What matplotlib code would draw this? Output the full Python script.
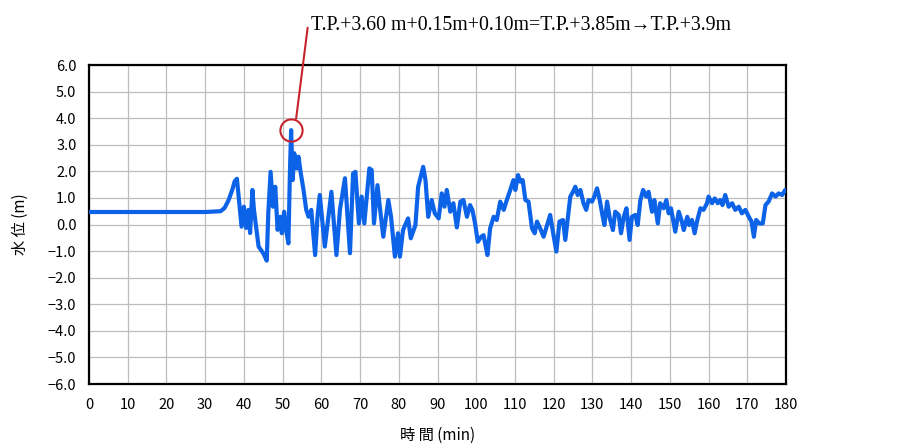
import numpy as np
import matplotlib
matplotlib.use("Agg")
import matplotlib.pyplot as plt

plt.rcParams['font.family'] = ['Noto Sans CJK JP', 'DejaVu Sans']
plt.rcParams['axes.unicode_minus'] = True

# ---- data (time in min, water level in m) ----
time_min = [0, 10, 20, 30, 34.0, 35.0, 36.0, 37.0, 37.6, 38.2,
            39.4, 40.0, 40.6, 41.2, 41.6, 42.2, 42.6, 43.8, 45.0, 45.9,
            46.3, 46.9, 47.5, 48.1, 48.7, 49.4, 49.8, 50.4, 50.9, 51.5,
            51.9, 52.2, 52.6, 53.0, 53.7, 54.1, 54.7, 55.4, 56.1, 56.7,
            57.4, 58.4, 59.0, 59.6, 60.9, 62.6, 63.9, 64.8, 66.1, 67.4,
            68.2, 68.8, 69.7, 70.4, 71.1, 72.4, 73.0, 73.6, 74.5, 75.1,
            76.0, 77.3, 78.0, 79.0, 79.8, 80.3, 81.1, 82.4, 83.1, 84.3,
            85.0, 86.3, 86.9, 87.6, 88.5, 89.3, 90.3, 91.1, 91.8, 92.4,
            93.3, 94.1, 95.0, 95.9, 96.7, 97.6, 98.4, 99.0, 99.7, 100.4,
            101.3, 101.9, 102.3, 102.9, 103.6, 104.5, 105.3, 106.2, 107.1, 107.9,
            108.8, 109.6, 110.1, 110.8, 111.4, 112.0, 112.7, 113.5, 114.4, 115.1,
            115.7, 116.5, 117.4, 118.3, 119.1, 119.8, 120.7, 121.5, 122.4, 123.0,
            123.6, 124.3, 125.0, 125.6, 126.2, 126.9, 127.7, 128.4, 129.0, 129.9,
            130.5, 131.2, 131.9, 132.5, 133.1, 133.8, 134.5, 135.3, 135.9, 136.8,
            137.4, 138.1, 138.8, 139.6, 140.2, 141.1, 141.7, 142.4, 143.1, 143.9,
            144.5, 145.4, 146.0, 146.9, 147.5, 148.4, 149.1, 149.7, 150.3, 151.4,
            152.3, 153.0, 153.6, 154.5, 155.0, 155.7, 156.4, 157.0, 157.9, 158.7,
            159.6, 160.0, 160.9, 161.6, 162.4, 163.0, 163.6, 164.3, 165.2, 166.1,
            166.9, 167.8, 168.6, 169.5, 170.4, 171.1, 171.7, 172.3, 173.1, 174.0,
            174.7, 175.5, 176.4, 177.3, 178.1, 179.0, 179.8, 180.0]

water_level = [0.47, 0.47, 0.47, 0.47, 0.50, 0.62, 0.90, 1.30, 1.62, 1.72,
               -0.08, 0.67, -0.13, 0.55, -0.32, 1.30, 0.55, -0.83, -1.08, -1.36,
               0.42, 1.98, 0.67, 1.42, -0.20, 0.29, -0.33, 0.48, -0.20, -0.71,
               2.05, 3.55, 1.67, 2.68, 2.11, 2.55, 1.92, 1.30, 0.55, 0.29,
               0.55, -1.15, 0.29, 1.11, -0.83, 1.23, -1.15, 0.55, 1.74, -1.08,
               1.92, 1.98, 0.04, 1.05, 0.04, 2.11, 2.05, 0.04, 1.48, 0.67,
               -0.46, 0.92, 0.29, -1.21, -0.33, -1.21, -0.21, 0.23, -0.52, -0.02,
               1.42, 2.17, 1.67, 0.29, 0.92, 0.42, 0.23, 1.17, 0.67, 1.30,
               0.48, 0.80, -0.11, 0.86, 0.92, 0.29, 0.73, 0.55, 0.04, -0.65,
               -0.46, -0.40, -0.71, -1.15, -0.14, 0.29, 0.17, 0.86, 0.55, 0.92,
               1.30, 1.67, 1.30, 1.86, 1.61, 1.67, 0.92, 0.86, -0.14, -0.33,
               0.11, -0.14, -0.46, -0.02, 0.36, -0.27, -1.02, 0.11, 0.17, -0.58,
               0.17, 1.05, 1.23, 1.42, 1.11, 1.30, 0.80, 0.55, 0.92, 0.86,
               1.05, 1.36, 0.92, 0.42, -0.02, 0.86, 0.23, -0.21, 0.48, 0.36,
               -0.33, 0.29, 0.61, -0.58, 0.29, 0.36, -0.02, 0.92, 1.30, 1.05,
               1.23, 0.48, 0.92, 0.04, 0.80, 0.61, 0.92, 0.42, 0.61, -0.27,
               0.48, 0.17, -0.21, 0.29, -0.02, 0.17, -0.33, 0.11, 0.61, 0.55,
               0.80, 1.05, 0.80, 0.98, 0.80, 0.92, 0.73, 1.11, 0.67, 0.80,
               0.55, 0.67, 0.42, 0.55, 0.29, 0.11, -0.46, 0.17, 0.04, 0.04,
               0.73, 0.86, 1.17, 1.05, 1.17, 1.11, 1.30, 1.30]

x_ticks = list(range(0, 181, 10))
y_ticks = [-6.0, -5.0, -4.0, -3.0, -2.0, -1.0, 0.0, 1.0, 2.0, 3.0, 4.0, 5.0, 6.0]
annotation_text = "T.P.+3.60 m+0.15m+0.10m=T.P.+3.85m\u2192T.P.+3.9m"

fig = plt.figure(figsize=(9.16, 4.46), dpi=100)
ax = fig.add_axes([89/916, 1-384/446, (786-89)/916, (384-65)/446])

ax.plot(time_min, water_level, color='#0d63e8', lw=3.0, solid_joinstyle='round', zorder=3)

ax.set_xlim(0, 180)
ax.set_ylim(-6, 6)
ax.set_xticks(x_ticks)
ax.set_yticks(y_ticks)
ax.set_xticklabels([str(v) for v in x_ticks], fontsize=10.5)
ax.set_yticklabels([f"{v:.1f}".replace('-', '\u2212') for v in y_ticks], fontsize=10.5)
ax.tick_params(length=0, pad=9)
ax.tick_params(axis='x', pad=10)
ax.grid(True, color='#bdbdbd', lw=0.9, zorder=0)
for s in ax.spines.values():
    s.set_linewidth(1.6)
    s.set_color('black')

ax.set_xlabel("時 間 (min)", fontsize=11, labelpad=11)
ax.set_ylabel("水 位 (m)", fontsize=11, labelpad=14)

# annotation circle at the peak
i_peak = int(np.argmax(water_level))
px, py = time_min[i_peak], water_level[i_peak]
ax.plot([px], [py], 'o', mfc='none', mec='#c8232c', mew=1.5, ms=16, zorder=4)
ax.annotate("", xy=(px + 1.2, py + 0.33), xycoords='data',
            xytext=(308/916, 1-25/446), textcoords='figure fraction',
            arrowprops=dict(arrowstyle='-', color='#c8232c', lw=1.5))
fig.text(311/916, 1-30/446, annotation_text, fontsize=14.3,
         family=['Liberation Serif', 'DejaVu Serif'], ha='left', va='baseline')

fig.savefig("out.png", dpi=100)
